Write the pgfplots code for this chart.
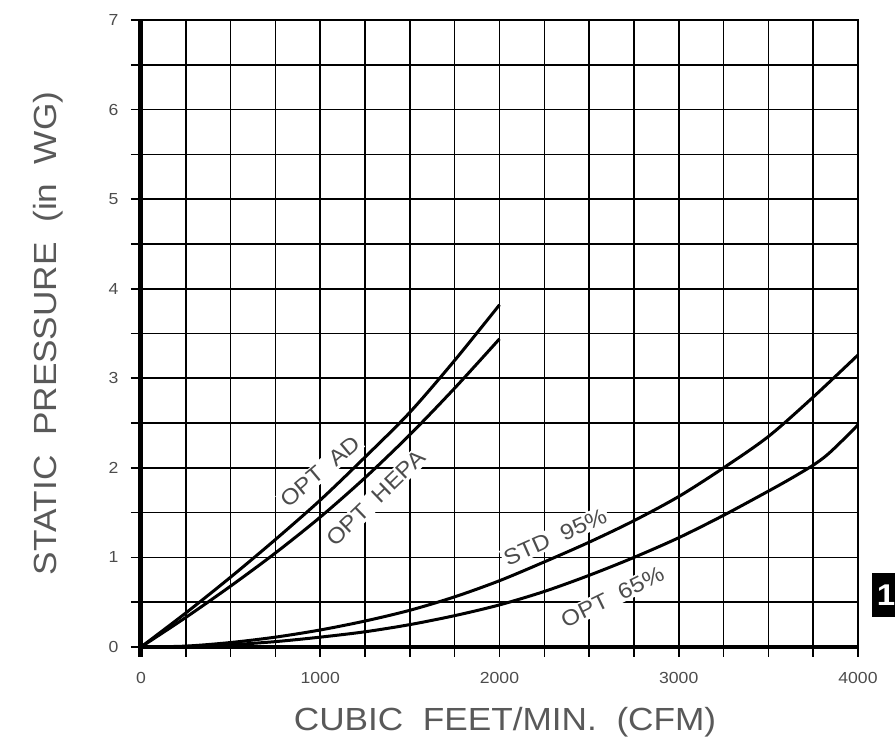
\documentclass[border=0pt]{standalone}
\usepackage{fontspec}
\setmainfont{Liberation Sans}[FakeStretch=1.1]
\usepackage{pgfplots}
\pgfplotsset{compat=1.18}
\begin{document}
\begin{tikzpicture}[x=1pt,y=1pt]
\path[use as bounding box] (-141,-104) rectangle (754,647);
\begin{axis}[
  at={(0,0)}, anchor=south west,
  scale only axis, width=717pt, height=627pt,
  xmin=0, xmax=4000, ymin=0, ymax=7,
  clip=false,
  xtick={0,1000,...,4000}, ytick={0,...,7},
  minor x tick num=3, minor y tick num=1,
  grid=both,
  major grid style={black, line width=1.6pt},
  minor grid style={black, line width=1.6pt},
  axis line style={black, line width=1.6pt},
  tick style={black, line width=1.6pt},
  tick align=outside, major tick length=10pt, minor tick length=10pt,
  xtick pos=bottom, ytick pos=left,
  scaled x ticks=false,
  /pgf/number format/1000 sep={},
  /pgf/number format/assume math mode=true,
  ticklabel style={font=\fontsize{16}{16}\selectfont, text=black!70},
  xticklabel style={yshift=-12pt},
  yticklabel style={xshift=-9pt},
  xlabel={CUBIC\ \ FEET/MIN.\ \ (CFM)},
  ylabel={STATIC\ \ PRESSURE\ \ (in\ \ WG)},
  label style={font=\fontsize{32}{32}\selectfont, text=black!65},
  xlabel style={at={(axis description cs:0.5077,-0.1196)}, anchor=center},
  ylabel style={at={(axis description cs:-0.1297,0.5)}, anchor=center},
]
% curve labels (white boxes cut the grid)
\node[rotate=40, fill=white, inner sep=2pt, text=black!70, font=\fontsize{22}{22}\selectfont] at (axis cs:1000,1.96) {OPT\ \ AD};
\node[rotate=44, fill=white, inner sep=2pt, text=black!70, font=\fontsize{22}{22}\selectfont] at (axis cs:1310,1.66) {OPT\ \ HEPA};
\node[rotate=24, fill=white, inner sep=2pt, text=black!70, font=\fontsize{22}{22}\selectfont] at (axis cs:2310,1.23) {STD\ \ 95\%};
\node[rotate=26, fill=white, inner sep=2pt, text=black!70, font=\fontsize{22}{22}\selectfont] at (axis cs:2630,0.56) {OPT\ \ 65\%};

\addplot[black, line width=3pt, smooth] coordinates {
  (0,0) (250,0.38) (500,0.78) (750,1.2) (1000,1.64) (1250,2.12)
  (1500,2.62) (1750,3.2) (2000,3.82)}; % OPT AD
\addplot[black, line width=3pt, smooth] coordinates {
  (0,0) (250,0.33) (500,0.68) (750,1.05) (1000,1.45) (1250,1.89)
  (1500,2.37) (1750,2.89) (2000,3.44)}; % OPT HEPA
\addplot[black, line width=3pt, smooth] coordinates {
  (0,0) (250,0.01) (500,0.05) (750,0.11) (1000,0.19) (1250,0.29)
  (1500,0.41) (1750,0.56) (2000,0.74) (2250,0.95) (2500,1.17)
  (2750,1.41) (3000,1.68) (3250,2.0) (3500,2.35) (3750,2.79) (4000,3.26)}; % STD 95%
\addplot[black, line width=3pt, smooth] coordinates {
  (0,0) (250,0.005) (500,0.025) (750,0.06) (1000,0.11) (1250,0.17)
  (1500,0.25) (1750,0.35) (2000,0.47) (2250,0.62) (2500,0.80)
  (2750,1.0) (3000,1.22) (3250,1.47) (3500,1.74) (3625,1.88) (3750,2.03)
  (3825,2.14) (3900,2.28) (4000,2.48)}; % OPT 65%
\addplot[black, line width=4pt] coordinates {(0,0) (4000,0)};
\draw[black, line width=5pt] (axis cs:0,-0.11) -- (axis cs:0,7);
\end{axis}
\fill[black] (731,30) rectangle (770,74);
\node[text=white, font=\bfseries\fontsize{30}{30}\selectfont] at (745,52) {1};
\end{tikzpicture}
\end{document}
